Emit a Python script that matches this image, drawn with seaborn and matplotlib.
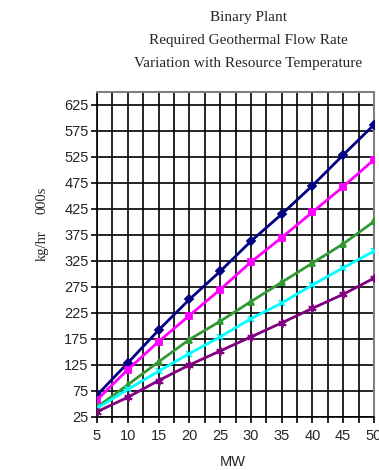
import numpy as np
import pandas as pd
import matplotlib
matplotlib.use("Agg")
import matplotlib.pyplot as plt
from matplotlib.ticker import MultipleLocator
import seaborn as sns

mw = [5, 10, 15, 20, 25, 30, 35, 40, 45, 50]
navy_vals = [67, 129, 192, 251, 305, 363, 415, 470, 529, 587]
magenta_vals = [58, 116, 170, 220, 270, 323, 370, 419, 468, 520]
green_vals = [44, 87, 131, 174, 209, 247, 284, 321, 358, 401]
cyan_vals = [42, 78, 113, 147, 179, 214, 244, 279, 312, 344]
purple_vals = [35, 63, 95, 125, 152, 179, 206, 234, 261, 292]
yticks = [25, 75, 125, 175, 225, 275, 325, 375, 425, 475, 525, 575, 625]
xticks = [5, 10, 15, 20, 25, 30, 35, 40, 45, 50]

series = [
    ("s1", navy_vals, "#000080", "D", 4),
    ("s2", magenta_vals, "#FF00FF", "s", 5),
    ("s3", green_vals, "#339933", "^", 5),
    ("s4", cyan_vals, "#00FFFF", "x", 5),
    ("s5", purple_vals, "#800080", (6, 2, 0), 6),
]

sns.set_style("white")
plt.rcParams['font.family'] = ['Liberation Sans', 'DejaVu Sans']

fig = plt.figure(figsize=(3.79, 4.70), dpi=100)
ax = fig.add_axes([97/379, 1-417/470, (374-97)/379, (417-92)/470])

for name, vals, col, mk, ms in series:
    df = pd.DataFrame({"MW": mw, "v": vals})
    sns.lineplot(data=df, x="MW", y="v", ax=ax, color=col, marker=mk,
                 markersize=ms, markeredgecolor=col, markeredgewidth=1.3,
                 linewidth=2.0, zorder=3, legend=False)

ax.set_xlim(5, 50)
ax.set_ylim(25, 650)
ax.set_xticks(xticks)
ax.xaxis.set_minor_locator(MultipleLocator(2.5))
ax.set_yticks(yticks)
ax.grid(True, which="both", axis="x", color="black", linewidth=1.2, zorder=1)
ax.grid(True, which="major", axis="y", color="black", linewidth=1.2, zorder=1)
ax.set_axisbelow(True)
ax.tick_params(axis="both", which="both", direction="out", length=4, width=1.2,
               color="black", labelsize=10.5, pad=2, bottom=True, left=True)
ax.tick_params(axis="x", which="major", pad=5)
for s in ["left", "bottom"]:
    ax.spines[s].set_color("black")
    ax.spines[s].set_linewidth(1.2)
for s in ["top", "right"]:
    ax.spines[s].set_color("#808080")
    ax.spines[s].set_linewidth(1.5)
ax.set_xlabel("")
ax.set_ylabel("")

fig.text(233/379, 1-462/470, "MW", ha="center", va="center", fontsize=10.5)
fig.text(42/379, 1-200/470, "000s", ha="center", va="center", fontsize=10.5,
         rotation=90, family=["Liberation Serif"])
fig.text(42/379, 1-246/470, "kg/hr", ha="center", va="center", fontsize=10.5,
         rotation=90, family=["Liberation Serif"])

title_lines = ["Binary Plant", "Required Geothermal Flow Rate",
               "Variation with Resource Temperature"]
for i, t in enumerate(title_lines):
    fig.text(248/379, 1-(18+22.5*i)/470, t, ha="center", va="center",
             fontsize=11, family=["Liberation Serif"])

fig.savefig("out.png", dpi=100)
